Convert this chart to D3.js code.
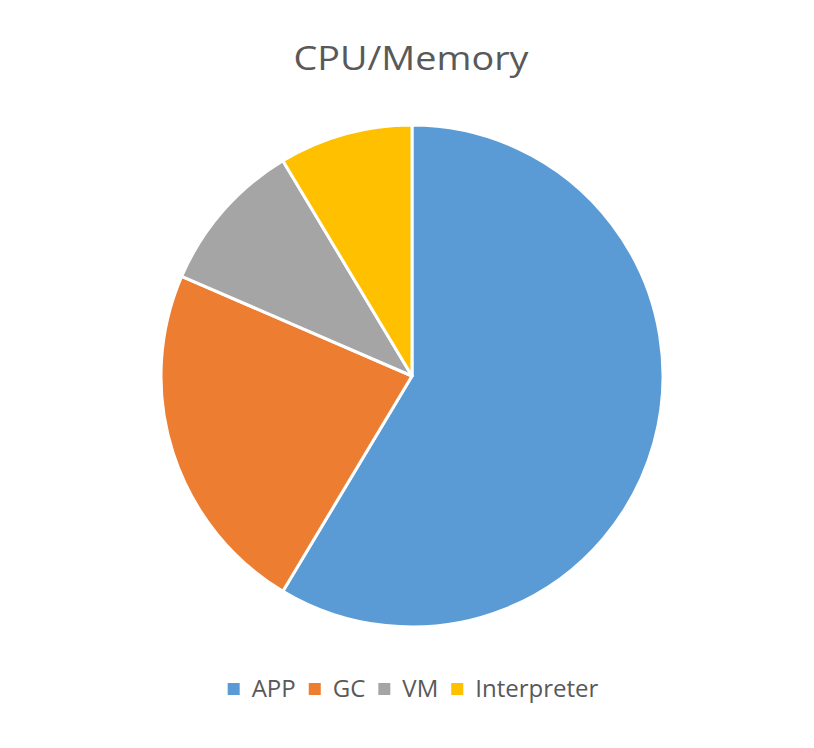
<!DOCTYPE html>
<html><head><meta charset="utf-8">
<script src="https://cdn.jsdelivr.net/npm/d3@7"></script>
<style>body{margin:0;background:#fff;}svg{display:block;}</style>
</head><body>
<svg id="c" width="814" height="748"></svg>
<script>
const categories = ["APP", "GC", "VM", "Interpreter"];
const values = [58.6, 22.9, 9.9, 8.6];
const colors = ["#5B9BD5", "#ED7D31", "#A5A5A5", "#FFC000"];
const title = "CPU/Memory";

const svg = d3.select("#c");
const cx = 412, cy = 376, R = 251;

svg.append("text").attr("x", 411).attr("y", 70).attr("text-anchor", "middle")
  .attr("font-family", "Open Sans").attr("font-size", 33).attr("fill", "#595959")
  .attr("textLength", 235).attr("lengthAdjust", "spacingAndGlyphs").text(title);

const color = d3.scaleOrdinal().domain(categories).range(colors);
const pie = d3.pie().sort(null).value(d => d.v);
const data = categories.map((c, i) => ({c, v: values[i]}));
const arc = d3.arc().innerRadius(0).outerRadius(R);
const g = svg.append("g").attr("transform", `translate(${cx},${cy})`);
g.selectAll("path").data(pie(data)).join("path")
  .attr("d", arc).attr("fill", d => color(d.data.c))
  .attr("stroke", "#fff").attr("stroke-width", 3).attr("stroke-linejoin", "round");

// legend
const lg = svg.append("g");
const fs = 24;
let items = [];
let x = 0;
categories.forEach((c, i) => {
  const it = lg.append("g");
  it.append("rect").attr("x", 0).attr("y", -14).attr("width", 12).attr("height", 12).attr("fill", color(c));
  const t = it.append("text").attr("x", 24).attr("y", 0).attr("font-family", "Open Sans")
    .attr("font-size", fs).attr("fill", "#595959").text(c);
  const w = 24 + t.node().getComputedTextLength();
  items.push({it, x, w});
  x += w + 13;
});
const total = x - 13;
const x0 = 413 - total / 2;
items.forEach(d => d.it.attr("transform", `translate(${x0 + d.x},${697})`));
</script>
</body></html>
